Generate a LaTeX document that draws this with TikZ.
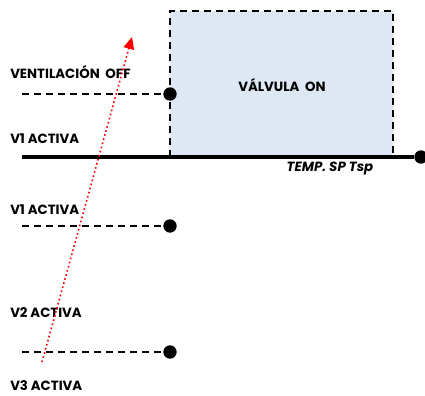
\documentclass[tikz,border=0pt]{standalone}
\usepackage{fontspec}
\setmainfont{Poppins}
\usetikzlibrary{arrows.meta}

\definecolor{zonefill}{HTML}{DDE8F4}

\tikzset{
  label/.style={font=\bfseries\fontsize{10}{12}\selectfont, anchor=west, inner sep=0pt},
  dot/.style={circle, fill=black, inner sep=0pt, minimum size=10pt},
  guide/.style={dash pattern=on 5pt off 4pt, line width=1pt}
}

\begin{document}
\begin{tikzpicture}[x=0.75pt, y=-0.75pt]
    \useasboundingbox (0,0) rectangle (425,396);

    % zone where the valve is on
    \fill[zonefill] (170,11) rectangle (393,157);
    \draw[guide] (170,157) -- (170,11) -- (393,11) -- (393,157);
    \node[label, anchor=center] (valve) at (282,85) {VÁLVULA\ \ ON};

    % setpoint axis
    \node[dot] (sp) at (421,157) {};
    \coordinate (axis) at (22,157);
    \draw[line width=2.4pt] (axis) -- (sp);
    \node[label, anchor=center, font=\bfseries\itshape\fontsize{10}{12}\selectfont] (tsp) at (330,169) {TEMP. SP Tsp};

    % thresholds
    \node[dot] (off) at (170,94) {};
    \node[dot] (va) at (170,226) {};
    \node[dot] (vb) at (170,352) {};
    \coordinate (offstart) at (22,94);
    \coordinate (vastart) at (22,226);
    \coordinate (vbstart) at (22,352);
    \draw[guide] (offstart) -- (off);
    \draw[guide] (vastart) -- (va);
    \draw[guide] (vbstart) -- (vb);

    \node[label] (ventoff) at (10,72) {VENTILACIÓN\ \ OFF};
    \node[label] (v1top) at (10,139) {V1 ACTIVA};
    \node[label] (v1) at (10,210) {V1 ACTIVA};
    \node[label] (v2) at (10,313) {V2 ACTIVA};
    \node[label] (v3) at (10,386) {V3 ACTIVA};

    % rising temperature
    \coordinate (rise) at (42,362);
    \coordinate (risetop) at (132,37);
    \draw[red, dotted, line width=1.2pt, -{Triangle[length=9pt, width=8pt]}] (rise) -- (risetop);

  \end{tikzpicture}
\end{document}
